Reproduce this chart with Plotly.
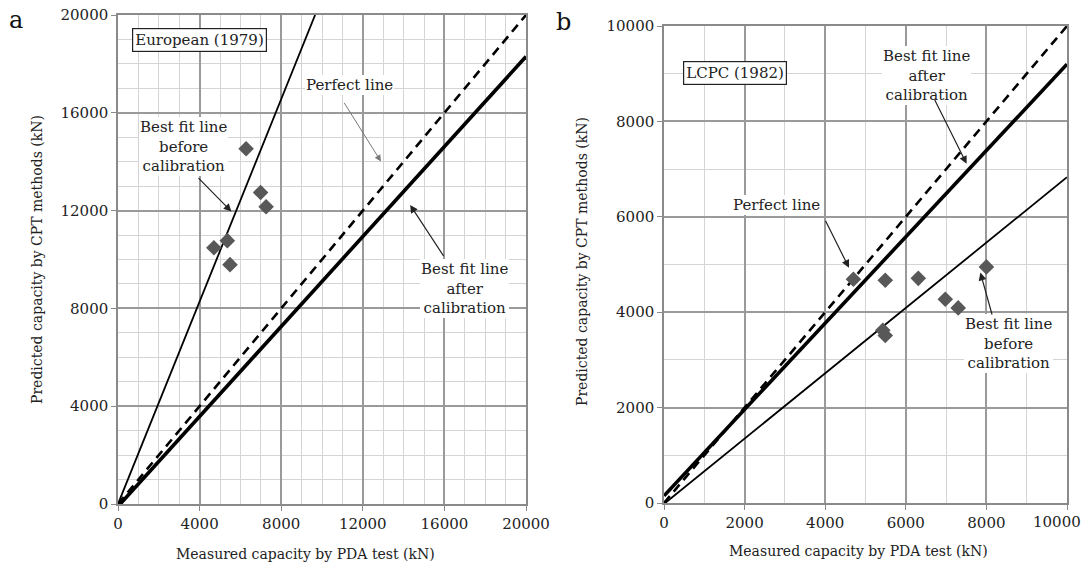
import plotly.graph_objects as go

# ---------------- data ----------------
# Panel a: European (1979)
a_measured = [6280, 6990, 7260, 4700, 5360, 5490]
a_predicted = [14530, 12740, 12160, 10480, 10770, 9790]
a_before_slope, a_before_int = 2.07, 0
a_after_slope, a_after_int = 0.92, -100
a_max = 20000
a_ticks = [0, 4000, 8000, 12000, 16000, 20000]

# Panel b: LCPC (1982)
b_measured = [4700, 5490, 6310, 8000, 6980, 7300, 5430, 5490]
b_predicted = [4690, 4670, 4710, 4950, 4270, 4090, 3620, 3510]
b_before_slope, b_before_int = 0.685, -20
b_after_slope, b_after_int = 0.905, 150
b_max = 10000
b_ticks = [0, 2000, 4000, 6000, 8000, 10000]

FONT = "DejaVu Serif"


def fit_line(slope, intercept, xmax, ymax):
    x0 = max(0.0, -intercept / slope)
    x1 = min(xmax, (ymax - intercept) / slope)
    return [x0, x1], [slope * x0 + intercept, slope * x1 + intercept]


fig = go.Figure()

# ---- panel a traces ----
fig.add_trace(go.Scatter(x=[0, a_max], y=[0, a_max], mode="lines",
                         line=dict(color="black", width=2.6, dash="9px,6px"),
                         xaxis="x", yaxis="y", showlegend=False))
xs, ys = fit_line(a_after_slope, a_after_int, a_max, a_max)
fig.add_trace(go.Scatter(x=xs, y=ys, mode="lines", line=dict(color="black", width=3.6),
                         xaxis="x", yaxis="y", showlegend=False))
xs, ys = fit_line(a_before_slope, a_before_int, a_max, a_max)
fig.add_trace(go.Scatter(x=xs, y=ys, mode="lines", line=dict(color="black", width=1.8),
                         xaxis="x", yaxis="y", showlegend=False))
fig.add_trace(go.Scatter(x=a_measured, y=a_predicted, mode="markers",
                         marker=dict(symbol="diamond", size=12, color="#585858"),
                         xaxis="x", yaxis="y", showlegend=False))

# ---- panel b traces ----
fig.add_trace(go.Scatter(x=[0, b_max], y=[0, b_max], mode="lines",
                         line=dict(color="black", width=2.6, dash="9px,6px"),
                         xaxis="x2", yaxis="y2", showlegend=False))
xs, ys = fit_line(b_after_slope, b_after_int, b_max, b_max)
fig.add_trace(go.Scatter(x=xs, y=ys, mode="lines", line=dict(color="black", width=3.6),
                         xaxis="x2", yaxis="y2", showlegend=False))
xs, ys = fit_line(b_before_slope, b_before_int, b_max, b_max)
fig.add_trace(go.Scatter(x=xs, y=ys, mode="lines", line=dict(color="black", width=1.8),
                         xaxis="x2", yaxis="y2", showlegend=False))
fig.add_trace(go.Scatter(x=b_measured, y=b_predicted, mode="markers",
                         marker=dict(symbol="diamond", size=12, color="#585858"),
                         xaxis="x2", yaxis="y2", showlegend=False))


def axis(domain, rng, ticks, major, anchor, ticktext=None):
    return dict(domain=domain, range=rng, tickvals=ticks,
                ticktext=ticktext if ticktext is not None else [str(t) for t in ticks],
                showgrid=True, gridcolor="#9a9a9a", gridwidth=1.6,
                minor=dict(dtick=major / (4 if major == 4000 else 2), showgrid=True,
                           gridcolor="#d4d4d4", gridwidth=1.2),
                showline=True, linecolor="#8a8a8a", linewidth=1.5, mirror=True,
                ticks="outside", ticklen=5, tickcolor="#8a8a8a",
                zeroline=False, anchor=anchor, automargin=False,
                ticklabeloverflow="allow",
                tickfont=dict(family=FONT, size=15, color="#222"), fixedrange=True)


W, H = 1083, 566
ax_a = [118 / W, 526 / W]
ay_a = [1 - 504 / H, 1 - 15 / H]
ax_b = [664 / W, 1067 / W]
ay_b = [1 - 503 / H, 1 - 26 / H]

annotations = []


def txt(text, x, y, xr, yr, size=15, border=False):
    annotations.append(dict(text=text, x=x, y=y, xref=xr, yref=yr, showarrow=False,
                            font=dict(family=FONT, size=size, color="#222"),
                            bgcolor="white", borderpad=2 if border else 1,
                            bordercolor="#222" if border else "rgba(0,0,0,0)",
                            borderwidth=1.2 if border else 0,
                            align="center"))


def arrow(tail, head, xr, yr, color="#222", width=1.2):
    annotations.append(dict(text="", x=head[0], y=head[1], ax=tail[0], ay=tail[1],
                            xref=xr, yref=yr, axref=xr, ayref=yr, showarrow=True,
                            arrowhead=2, arrowsize=1.3, arrowwidth=width, arrowcolor=color))


# panel a labels
txt("European (1979)", 4000, 18970, "x", "y", size=15, border=True)
txt("Perfect line", 11370, 17130, "x", "y")
arrow((11040, 16470), (12890, 14010), "x", "y", color="#777", width=1)
txt("Best fit line<br>before<br>calibration", 3235, 14620, "x", "y")
arrow((3875, 13390), (5560, 11960), "x", "y")
txt("Best fit line<br>after<br>calibration", 16980, 8810, "x", "y")
arrow((16010, 10080), (14320, 12230), "x", "y")

# panel b labels
txt("LCPC (1982)", 1750, 9020, "x2", "y2", size=15, border=True)
txt("Best fit line<br>after<br>calibration", 6520, 8970, "x2", "y2")
arrow((6700, 8480), (7510, 7110), "x2", "y2")
txt("Perfect line", 2790, 6250, "x2", "y2")
arrow((3990, 5950), (4590, 4930), "x2", "y2")
txt("Best fit line<br>before<br>calibration", 8540, 3350, "x2", "y2")
arrow((8150, 3920), (7850, 4830), "x2", "y2")

# last x tick label of panel b: kept inside the figure edge
b_ticktext = [str(t) for t in b_ticks[:-1]] + [""]
annotations.append(dict(text=str(b_ticks[-1]), x=1, y=1 - 522 / H, xref="paper", yref="paper",
                        showarrow=False, xanchor="right", yanchor="middle",
                        font=dict(family=FONT, size=15, color="#222")))

# axis titles and panel letters
title_font = dict(family=FONT, size=14, color="#222")
for text, x, y, ang in [
    ("Measured capacity by PDA test (kN)", 305 / W, 1 - 554 / H, 0),
    ("Measured capacity by PDA test (kN)", 858 / W, 1 - 551 / H, 0),
    ("Predicted capacity by CPT methods (kN)", 37 / W, 1 - 260 / H, -90),
    ("Predicted capacity by CPT methods (kN)", 582 / W, 1 - 262 / H, -90),
]:
    annotations.append(dict(text=text, x=x, y=y, xref="paper", yref="paper", showarrow=False,
                            textangle=ang, font=title_font, xanchor="center", yanchor="middle"))
for text, x, y in [("a", 16 / W, 1 - 20 / H), ("b", 563 / W, 1 - 22 / H)]:
    annotations.append(dict(text=text, x=x, y=y, xref="paper", yref="paper", showarrow=False,
                            font=dict(family=FONT, size=24, color="#111"),
                            xanchor="center", yanchor="middle"))

fig.update_layout(
    width=W, height=H,
    margin=dict(l=0, r=0, t=0, b=0, autoexpand=False),
    paper_bgcolor="white", plot_bgcolor="white",
    xaxis=axis(ax_a, [0, a_max], a_ticks, 4000, "y"),
    yaxis=axis(ay_a, [0, a_max], a_ticks, 4000, "x"),
    xaxis2=axis(ax_b, [0, b_max], b_ticks, 2000, "y2", ticktext=b_ticktext),
    yaxis2=axis(ay_b, [0, b_max], b_ticks, 2000, "x2"),
    annotations=annotations,
)

fig.write_html("out.html")
